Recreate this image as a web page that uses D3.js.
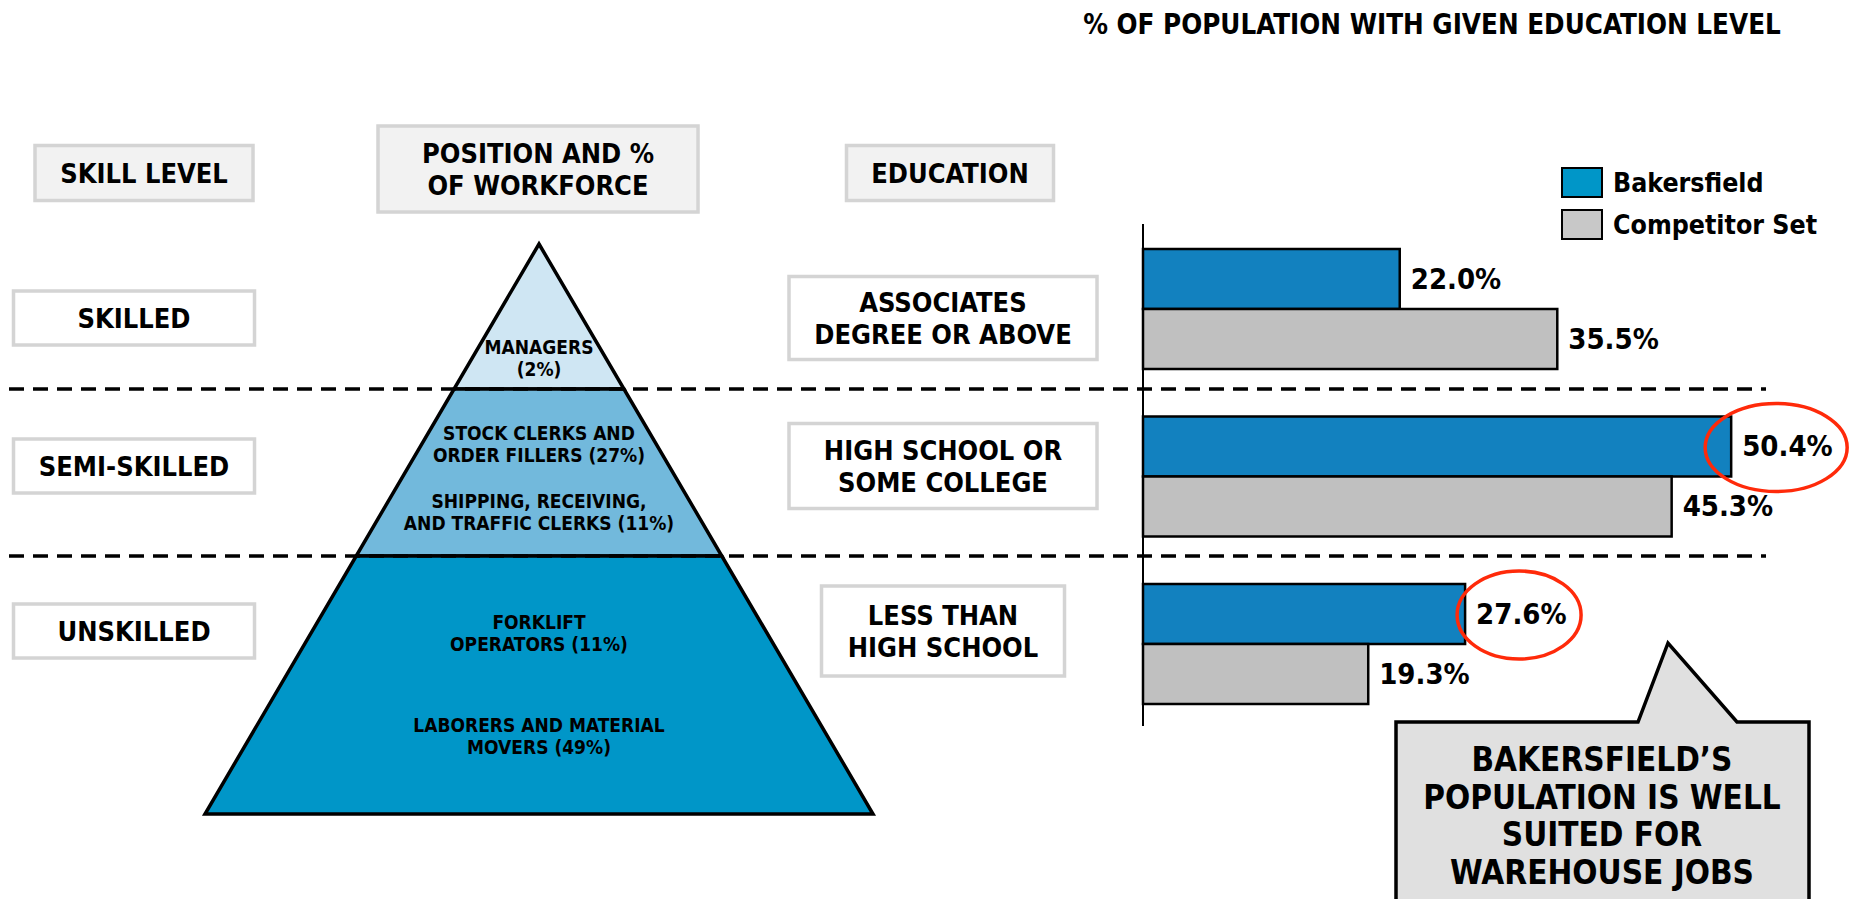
<!DOCTYPE html>
<html>
<head>
<meta charset="utf-8">
<script src="https://cdn.jsdelivr.net/npm/d3@7"></script>
<style>
  body { margin: 0; background: #fff; }
  svg text { font-family: "DejaVu Sans Condensed", "DejaVu Sans", sans-serif; font-weight: bold; font-stretch: condensed; }
</style>
</head>
<body>
<svg id="chart" width="1850" height="899"></svg>
<script>
// ---------------- data ----------------
var educationLevels = [["ASSOCIATES", "DEGREE OR ABOVE"], ["HIGH SCHOOL OR", "SOME COLLEGE"], ["LESS THAN", "HIGH SCHOOL"]];
var educationKeys = ["assoc", "hs", "less"];
var bakersfield = [22.0, 50.4, 27.6];
var competitorSet = [35.5, 45.3, 19.3];
var seriesNames = ["Bakersfield", "Competitor Set"];
var highlighted = [false, true, true]; // red circles around Bakersfield labels

var skillLevels = ["SKILLED", "SEMI-SKILLED", "UNSKILLED"];
var headers = [["SKILL LEVEL"], ["POSITION AND %", "OF WORKFORCE"], ["EDUCATION"]];
var positions = [
  [["MANAGERS", "(2%)"]],
  [["STOCK CLERKS AND", "ORDER FILLERS (27%)"], ["SHIPPING, RECEIVING,", "AND TRAFFIC CLERKS (11%)"]],
  [["FORKLIFT", "OPERATORS (11%)"], ["LABORERS AND MATERIAL", "MOVERS (49%)"]]
];
var calloutLines = ["BAKERSFIELD\u2019S", "POPULATION IS WELL", "SUITED FOR", "WAREHOUSE JOBS"];
var chartTitle = "% OF POPULATION WITH GIVEN EDUCATION LEVEL";

// ---------------- setup ----------------
var svg = d3.select("#chart");
var tierColors = ["#cfe6f3", "#72b9dc", "#0096c8"];
var barColors = ["#1281bf", "#c0c0c0"];
var legendColors = ["#0096c8", "#c8c8c8"];

// row layout: tier boundaries on y
var tierY = [244, 389, 556, 814];
var rowCenters = [318, 466, 631];
// where the labels sit inside each tier (fraction of tier height)
var labelFracs = [[0.79], [0.33, 0.74], [0.30, 0.70]];

// title
svg.append("text")
  .attr("x", 1432).attr("y", 34)
  .attr("text-anchor", "middle")
  .attr("font-size", 27.5)
  .text(chartTitle);

// helper for boxed labels
function boxLabel(g, cx, cy, w, h, lines, fill, fontSize, lineH) {
  g.append("rect")
    .attr("x", cx - w / 2).attr("y", cy - h / 2)
    .attr("width", w).attr("height", h)
    .attr("fill", fill)
    .attr("stroke", "#d4d4d4")
    .attr("stroke-width", 3.5);
  var t = g.append("text")
    .attr("text-anchor", "middle")
    .attr("font-size", fontSize);
  var y0 = cy - (lines.length - 1) * lineH / 2 + fontSize * 0.36;
  lines.forEach(function(l, i) {
    t.append("tspan").attr("x", cx).attr("y", y0 + i * lineH).text(l);
  });
}

// headers
var headerG = svg.append("g");
boxLabel(headerG, 144, 173, 218, 55, headers[0], "#f2f2f2", 27, 32);
boxLabel(headerG, 538, 169, 320, 86, headers[1], "#f2f2f2", 27, 32);
boxLabel(headerG, 950, 173, 207, 55, headers[2], "#f2f2f2", 27, 32);

// skill level boxes
var skillG = svg.append("g");
skillLevels.forEach(function(s, i) {
  boxLabel(skillG, 134, rowCenters[i], 241, 54, [s], "#fff", 27, 32);
});

// education boxes
var eduG = svg.append("g");
var eduWidths = [308, 308, 243];
var eduHeights = [83, 85, 90];
educationLevels.forEach(function(lines, i) {
  boxLabel(eduG, 943, rowCenters[i], eduWidths[i], eduHeights[i], lines, "#fff", 27, 32);
});

// ---------------- pyramid ----------------
var apexX = 539;
var halfBase = 334;
function halfW(y) { return halfBase * (y - tierY[0]) / (tierY[3] - tierY[0]); }

var pyrG = svg.append("g");
positions.forEach(function(items, i) {
  var y1 = tierY[i], y2 = tierY[i + 1];
  var pts = [[apexX - halfW(y1), y1], [apexX + halfW(y1), y1], [apexX + halfW(y2), y2], [apexX - halfW(y2), y2]];
  pyrG.append("path")
    .attr("d", d3.line()(pts) + "Z")
    .attr("fill", tierColors[i])
    .attr("stroke", "#000")
    .attr("stroke-width", 3.5)
    .attr("stroke-linejoin", "miter");
  items.forEach(function(lines, j) {
    var cy = y1 + (y2 - y1) * labelFracs[i][j];
    var t = pyrG.append("text").attr("text-anchor", "middle").attr("font-size", 19);
    lines.forEach(function(l, k) {
      t.append("tspan").attr("x", apexX).attr("y", cy - 11 + k * 22 + 6.5).text(l);
    });
  });
});

// dashed separators
svg.append("g").selectAll("line")
  .data([tierY[1], tierY[2]])
  .enter().append("line")
  .attr("x1", 9).attr("x2", 1766)
  .attr("y1", function(d) { return d; }).attr("y2", function(d) { return d; })
  .attr("stroke", "#000")
  .attr("stroke-width", 3.5)
  .attr("stroke-dasharray", "15,9");

// ---------------- bars ----------------
var x = d3.scaleLinear().domain([0, 50]).range([1143, 1726.5]);
var y = d3.scaleBand().domain(educationKeys).range([249, 704]).paddingInner(0.2836);
var ySub = d3.scaleBand().domain(seriesNames).range([0, y.bandwidth()]);

var rows = educationKeys.map(function(k, i) {
  return { key: k, values: [bakersfield[i], competitorSet[i]], hl: highlighted[i] };
});

var barG = svg.append("g");
var groups = barG.selectAll("g.grp").data(rows).enter().append("g")
  .attr("class", "grp")
  .attr("transform", function(d) { return "translate(0," + y(d.key) + ")"; });

groups.selectAll("rect").data(function(d) { return d.values; }).enter().append("rect")
  .attr("x", x(0))
  .attr("y", function(d, i) { return ySub(seriesNames[i]); })
  .attr("width", function(d) { return x(d) - x(0); })
  .attr("height", ySub.bandwidth())
  .attr("fill", function(d, i) { return barColors[i]; })
  .attr("stroke", "#000")
  .attr("stroke-width", 2.5);

groups.selectAll("text").data(function(d) { return d.values; }).enter().append("text")
  .attr("x", function(d) { return x(d) + 11; })
  .attr("y", function(d, i) { return ySub(seriesNames[i]) + ySub.bandwidth() / 2 + 10; })
  .attr("font-size", 29)
  .text(function(d) { return d.toFixed(1) + "%"; });

// highlight circles
groups.filter(function(d) { return d.hl; }).append("ellipse")
  .attr("cx", function(d) { return x(d.values[0]) + (d.values[0] > 40 ? 45 : 54); })
  .attr("cy", ySub(seriesNames[0]) + ySub.bandwidth() / 2 + 1)
  .attr("rx", function(d) { return d.values[0] > 40 ? 71 : 62; })
  .attr("ry", 44)
  .attr("fill", "none")
  .attr("stroke", "#ff2a0a")
  .attr("stroke-width", 3.5);

// axis line
svg.append("line")
  .attr("x1", x(0)).attr("x2", x(0))
  .attr("y1", 224).attr("y2", 726)
  .attr("stroke", "#000").attr("stroke-width", 2);

// legend
var legend = svg.append("g").selectAll("g").data(seriesNames).enter().append("g")
  .attr("transform", function(d, i) { return "translate(1562," + (168 + i * 42) + ")"; });
legend.append("rect")
  .attr("width", 40).attr("height", 29)
  .attr("fill", function(d, i) { return legendColors[i]; })
  .attr("stroke", "#000").attr("stroke-width", 2);
legend.append("text")
  .attr("x", 51).attr("y", 24)
  .attr("font-size", 26.5)
  .text(function(d) { return d; });

// ---------------- callout ----------------
var callG = svg.append("g");
var cpts = [[1396, 722], [1638, 722], [1668, 643], [1737, 722], [1809, 722], [1809, 910], [1396, 910]];
callG.append("path")
  .attr("d", d3.line()(cpts) + "Z")
  .attr("fill", "#e0e0e0")
  .attr("stroke", "#000")
  .attr("stroke-width", 3.5)
  .attr("stroke-linejoin", "miter");
var ct = callG.append("text").attr("text-anchor", "middle").attr("font-size", 33);
calloutLines.forEach(function(l, i) {
  ct.append("tspan").attr("x", 1602).attr("y", 771 + i * 37.5).text(l);
});
</script>
</body>
</html>
